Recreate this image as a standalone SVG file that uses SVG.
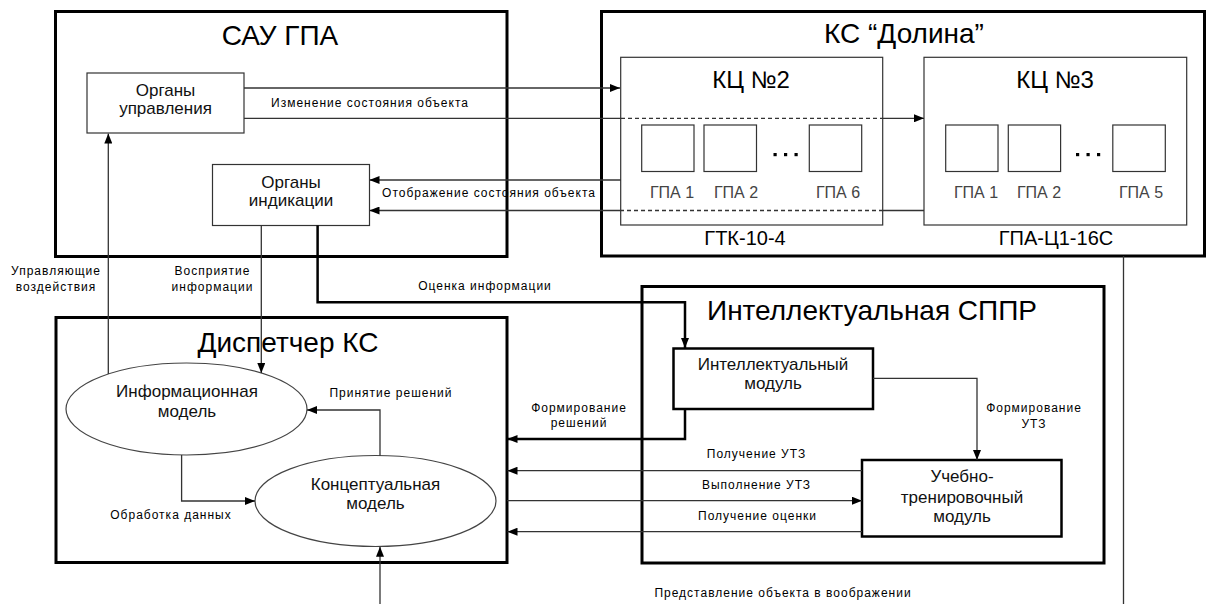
<svg xmlns="http://www.w3.org/2000/svg" width="1206" height="604" viewBox="0 0 1206 604">
<style>
text{font-family:"Liberation Sans",Arial,sans-serif;fill:#000}
.title{font-size:28px;text-anchor:middle}
.kc{font-size:24px;text-anchor:middle}
.sub{font-size:20px;text-anchor:middle}
.gpa{font-size:16px;text-anchor:middle;fill:#444}
.node{font-size:17px;text-anchor:middle;fill:#111}
.lbl{font-size:12px;letter-spacing:1px;text-anchor:middle}
.big{fill:#fff;stroke:#000;stroke-width:3}
.mod{fill:#fff;stroke:#000;stroke-width:2.5}
.box{fill:#fff;stroke:#333;stroke-width:1.2}
.ell{fill:#fff;stroke:#444;stroke-width:1.2}
.c{fill:none;stroke:#333;stroke-width:1.3}
.ct{fill:none;stroke:#000;stroke-width:2.5}
.d{fill:none;stroke:#333;stroke-width:1.3;stroke-dasharray:4 3}
</style>
<defs>
<marker id="ah" viewBox="0 0 10 8" refX="10" refY="4" markerWidth="10" markerHeight="8" orient="auto" markerUnits="userSpaceOnUse"><path d="M0,0 L10,4 L0,8 z" fill="#000"/></marker>
</defs>
<rect width="1206" height="604" fill="#fff"/>

<g id="sau">
<rect class="big" x="55.5" y="11.5" width="451.5" height="245"/>
<text class="title" x="280" y="45">САУ ГПА</text>
</g>
<g id="ks">
<rect class="big" x="601.5" y="11.5" width="603" height="244.5"/>
<text class="title" x="904" y="43">КС “Долина”</text>
<text class="sub" x="745" y="245">ГТК-10-4</text>
<text class="sub" x="1056" y="245">ГПА-Ц1-16С</text>
</g>
<g id="dispatcher">
<rect class="big" x="56" y="317.5" width="451" height="245"/>
<text class="title" x="288" y="352">Диспетчер КС</text>
</g>
<g id="sppr">
<rect class="big" x="642" y="286.5" width="462" height="276.5"/>
<text class="title" x="872" y="320">Интеллектуальная СППР</text>
</g>

<g id="organy-upr">
<rect class="box" x="87" y="73" width="157" height="60"/>
<text class="node" x="165.5" y="96">Органы</text>
<text class="node" x="165.5" y="114">управления</text>
</g>
<g id="organy-ind">
<rect class="box" x="212.5" y="164.5" width="157" height="61"/>
<text class="node" x="291" y="188">Органы</text>
<text class="node" x="291" y="206">индикации</text>
</g>

<g id="kc2">
<rect class="box" x="620.7" y="57.3" width="262" height="167.7"/>
<text class="kc" x="751" y="88">КЦ №2</text>
</g>
<g id="kc2-gpa1"><rect class="box" x="641.7" y="125" width="52.3" height="46.5"/><text class="gpa" x="672" y="197.5">ГПА 1</text></g>
<g id="kc2-gpa2"><rect class="box" x="704" y="125" width="52.5" height="46.5"/><text class="gpa" x="736" y="197.5">ГПА 2</text></g>
<g id="kc2-gpa6"><rect class="box" x="809.3" y="125" width="52.4" height="46.5"/><text class="gpa" x="838" y="197.5">ГПА 6</text></g>
<g id="kc2-dots" fill="#000"><rect x="773.5" y="153" width="3.2" height="3.2"/><rect x="784" y="153" width="3.2" height="3.2"/><rect x="794.5" y="153" width="3.2" height="3.2"/></g>

<g id="kc3">
<rect class="box" x="924" y="57.3" width="262.7" height="167.7"/>
<text class="kc" x="1055" y="88">КЦ №3</text>
</g>
<g id="kc3-gpa1"><rect class="box" x="945.7" y="125" width="52.3" height="46.5"/><text class="gpa" x="976" y="197.5">ГПА 1</text></g>
<g id="kc3-gpa2"><rect class="box" x="1008.3" y="125" width="52.3" height="46.5"/><text class="gpa" x="1039" y="197.5">ГПА 2</text></g>
<g id="kc3-gpa5"><rect class="box" x="1112.8" y="125" width="52.5" height="46.5"/><text class="gpa" x="1141" y="197.5">ГПА 5</text></g>
<g id="kc3-dots" fill="#000"><rect x="1076" y="153" width="3.2" height="3.2"/><rect x="1086.5" y="153" width="3.2" height="3.2"/><rect x="1097" y="153" width="3.2" height="3.2"/></g>

<g id="info-model">
<ellipse class="ell" cx="186.5" cy="409" rx="120.5" ry="46"/>
<text class="node" x="187" y="397">Информационная</text>
<text class="node" x="187" y="417">модель</text>
</g>
<g id="concept-model">
<ellipse class="ell" cx="375.5" cy="501" rx="120.5" ry="45.5"/>
<text class="node" x="375.5" y="490">Концептуальная</text>
<text class="node" x="375.5" y="509">модель</text>
</g>
<g id="intel-module">
<rect class="mod" x="673.5" y="348.5" width="199.5" height="60.5"/>
<text class="node" x="773" y="370">Интеллектуальный</text>
<text class="node" x="773" y="389">модуль</text>
</g>
<g id="training-module">
<rect class="mod" x="862" y="460" width="199.5" height="76.5"/>
<text class="node" x="962" y="482">Учебно-</text>
<text class="node" x="962" y="503">тренировочный</text>
<text class="node" x="962" y="522">модуль</text>
</g>

<g id="connectors">
<path class="c" d="M244,88 H620" marker-end="url(#ah)"/>
<path class="c" d="M244,118.3 H621"/>
<path class="d" d="M621,118.3 H883"/>
<path class="c" d="M883,118.3 H924" marker-end="url(#ah)"/>
<path class="c" d="M621,180 H369.5" marker-end="url(#ah)"/>
<path class="c" d="M924,210.5 H883"/>
<path class="d" d="M883,210.5 H621"/>
<path class="c" d="M621,210.5 H369.5" marker-end="url(#ah)"/>
<path class="c" d="M108.3,374 V133.5" marker-end="url(#ah)"/>
<path class="c" d="M261.3,225.5 V373" marker-end="url(#ah)"/>
<path class="ct" d="M317.6,225.5 V302.3 H685 V348" marker-end="url(#ah)"/>
<path class="ct" d="M685,409 V439 H507.5" marker-end="url(#ah)"/>
<path class="c" d="M380,455.7 V410 H307" marker-end="url(#ah)"/>
<path class="c" d="M181.6,455 V501 H255" marker-end="url(#ah)"/>
<path class="c" d="M380,604 V546.7" marker-end="url(#ah)"/>
<path class="c" d="M873,378.3 H977 V460" marker-end="url(#ah)"/>
<path class="c" d="M862,470.7 H507.5" marker-end="url(#ah)"/>
<path class="c" d="M507,500.7 H862" marker-end="url(#ah)"/>
<path class="c" d="M862,531.7 H507.5" marker-end="url(#ah)"/>
<path class="c" d="M1123.5,256 V604" stroke="#000"/>
</g>

<g id="labels">
<text class="lbl" x="370" y="106.5">Изменение состояния объекта</text>
<text class="lbl" x="489" y="197">Отображение состояния объекта</text>
<text class="lbl" x="56" y="275">Управляющие</text>
<text class="lbl" x="56" y="290.5">воздействия</text>
<text class="lbl" x="212.5" y="275">Восприятие</text>
<text class="lbl" x="212.5" y="290.5">информации</text>
<text class="lbl" x="485" y="290">Оценка информации</text>
<text class="lbl" x="391" y="397">Принятие решений</text>
<text class="lbl" x="171" y="519">Обработка данных</text>
<text class="lbl" x="579" y="412">Формирование</text>
<text class="lbl" x="579" y="427">решений</text>
<text class="lbl" x="1034" y="412">Формирование</text>
<text class="lbl" x="1034" y="428">УТЗ</text>
<text class="lbl" x="756.5" y="458">Получение УТЗ</text>
<text class="lbl" x="756.5" y="489">Выполнение УТЗ</text>
<text class="lbl" x="757.5" y="520">Получение оценки</text>
<text class="lbl" x="783" y="596.5">Представление объекта в воображении</text>
</g>
</svg>
